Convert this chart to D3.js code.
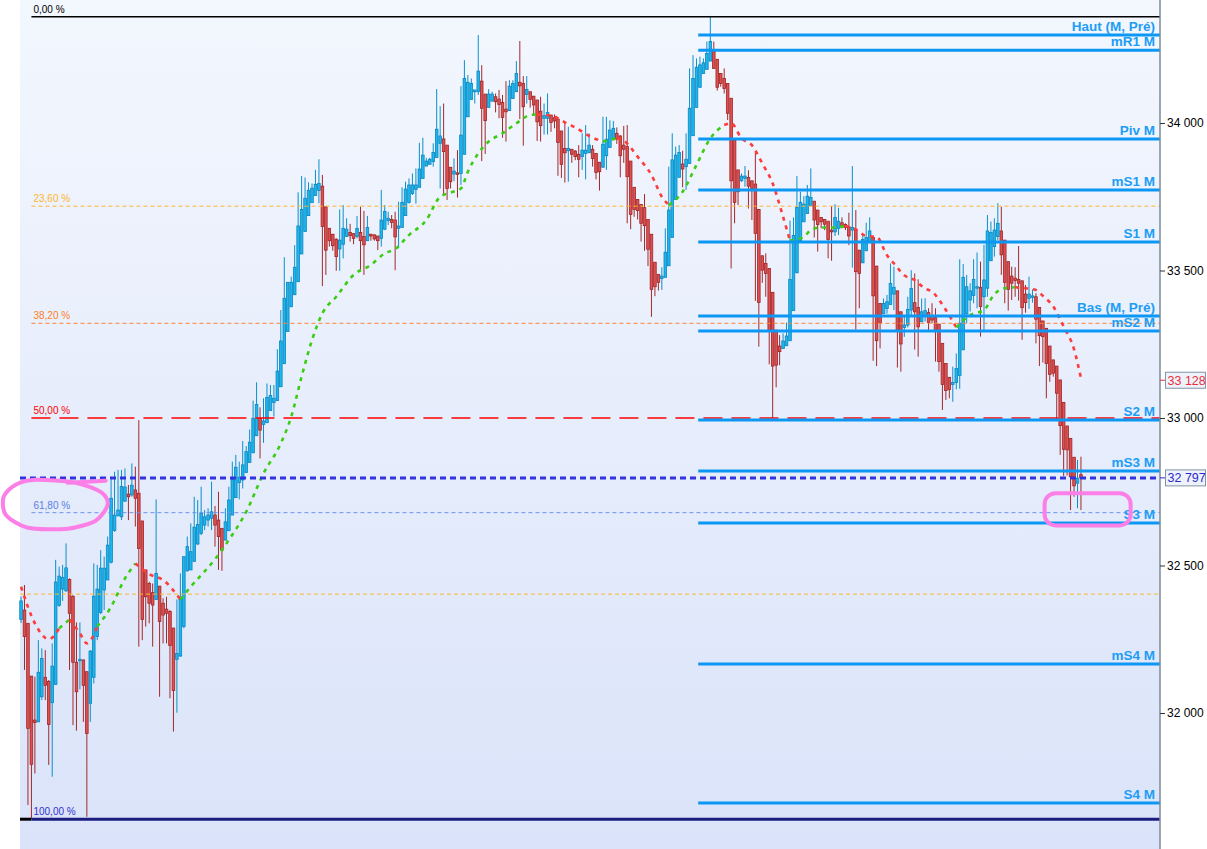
<!DOCTYPE html>
<html>
<head>
<meta charset="utf-8">
<script src="https://cdn.jsdelivr.net/npm/d3@7"></script>
<style>
  html, body { margin: 0; padding: 0; background: #fff; overflow: hidden; }
  svg { display: block; }
</style>
</head>
<body>
<svg id="chart" width="1207" height="849"></svg>
<script>
// candle values (index = bar number, left to right)
const opens = [
  32317,32349,32304,32125,31976,31970,32055,32121,32107,32035,
  32097,32365,32420,32414,32453,32395,32172,32177,32180,32140,
  32033,32121,32259,32341,32417,32451,32511,32619,32668,32665,
  32718,32742,32739,32756,32745,32651,32485,32439,32408,32385,
  32430,32372,32352,32344,32288,32182,32193,32293,32482,32485,
  32514,32573,32609,
  32637,32654,32660,32671,32654,32626,32586,32618,32671,32730,
  32781,32790,32815,32849,32882,32940,32999,32978,32984,33025,
  33053,33059,33106,33184,33293,33377,33418,33462,33556,33632,
  33686,33730,33754,33771,33786,33716,33643,33623,33606,33573,
  33589,33615,33629,33625,33615,33629,33615,33601,33623,33621,
  33617,33609,33640,
  33669,33673,33671,33643,33646,33686,33731,33761,33775,33782,
  33812,33854,33860,33869,33883,33931,33946,33925,33850,33827,
  33831,33829,33894,34021,34080,34106,34106,34142,34098,34053,
  34074,34089,34081,34070,34047,34042,34083,34106,34138,34134,
  34097,34106,34091,34078,34040,34016,34016,34027,34018,34013,33973,
  33914,33906,33911,33905,33894,33886,33897,33899,33911,33897,
  33867,33850,33889,33917,33946,33965,33956,33925,33920,33871,
  33782,33741,33724,33713,33673,33623,33528,33487,33473,33477,
  33516,33612,33741,33816,33861,33852,33863,33957,34053,34121,
  34168,34182,34210,34242,34216,34168,34151,34134,34084,33942,33841,33804,
  33812,33815,33804,33793,33707,33550,33524,33507,33426,33298,
  33244,33236,33245,33262,33364,33492,33601,33665,33693,33719,
  33735,33705,33680,33673,33667,33637,33631,33643,33662,33656,
  33648,33637,33639,33569,33526,33567,33594,33612,33515,33388,
  33354,33371,33385,33420,33431,33360,33307,33315,33366,33391,33375,33326,
  33344,33357,33346,33340,33318,33253,33185,33138,33114,33120,
  33144,33231,33353,33400,33415,33440,33443,33411,33440,33533,
  33581,33615,33634,33603,33530,33481,33474,33470,33465,33420,
  33406,33409,33411,33375,33329,33304,33244,33197,33176,33129,
  33053,32973,32931,32867,32779,32808
];
const highs = [
  32395,32434,32304,32125,32123,32247,32219,32213,32112,32236,
  32519,32496,32502,32575,32456,32400,32307,32307,32180,32140,
  32213,32507,32502,32552,32530,32598,32801,32818,32824,32824,
  32829,32773,32846,32835,32993,32651,32485,32445,32439,32724,
  32430,32389,32394,32349,32288,32385,32473,32530,32598,32643,
  32733,32722,32767,
  32688,32694,32784,32702,32750,32626,32694,32767,32852,32875,
  32852,32922,32905,32961,33059,33121,33036,33067,33117,33112,
  33112,33233,33366,33545,33460,33479,33586,33765,33820,33815,
  33799,33795,33841,33877,33824,33716,33643,33623,33609,33707,
  33722,33677,33658,33625,33685,33716,33702,33685,33623,33621,
  33617,33773,33722,
  33699,33688,33699,33733,33782,33801,33812,33829,33846,33933,
  33950,33882,33882,33931,34115,34057,34066,33925,33850,33880,
  33908,34125,34213,34163,34151,34112,34298,34196,34098,34115,
  34106,34100,34112,34095,34142,34145,34145,34210,34278,34159,
  34159,34106,34091,34078,34089,34066,34100,34027,34029,34013,33973,
  34004,33987,33911,33908,33925,33965,33993,33965,33925,33897,
  33867,34021,34021,34009,34007,33985,33959,33990,33993,33871,
  33782,33741,33724,33759,33673,33623,33528,33487,33511,33643,
  33852,33965,33920,33925,33906,33965,34185,34230,34219,34225,
  34219,34276,34363,34276,34216,34168,34185,34134,34084,33942,33841,33829,
  33854,33840,33804,33902,33707,33550,33558,33507,33426,33298,
  33281,33287,33323,33669,33680,33820,33767,33752,33790,33846,
  33735,33705,33680,33673,33667,33718,33725,33713,33680,33660,
  33696,33854,33705,33569,33620,33662,33680,33612,33515,33388,
  33405,33417,33524,33513,33431,33360,33343,33411,33501,33490,33470,33405,
  33406,33372,33389,33372,33318,33253,33185,33138,33174,33219,
  33538,33522,33485,33457,33538,33561,33530,33587,33688,33666,
  33677,33728,33716,33603,33530,33513,33511,33583,33465,33451,
  33479,33436,33423,33375,33329,33304,33244,33197,33176,33129,
  33053,32973,32931,32867,32858,32869
];
const lows = [
  32305,32146,31688,31643,31795,31970,32044,32044,31824,31784,
  32097,32360,32380,32411,32146,31959,31940,32080,31970,31648,
  31970,32100,32247,32335,32349,32451,32507,32614,32668,32654,
  32716,32654,32733,32632,32225,32247,32293,32304,32225,32383,
  32055,32236,32236,32050,31937,32001,32191,32287,32479,32485,
  32513,32569,32603,
  32620,32632,32620,32564,32485,32482,32586,32618,32671,32730,
  32724,32761,32815,32849,32882,32940,32863,32916,32984,33025,
  33005,33059,33106,33184,33293,33377,33418,33462,33556,33632,
  33686,33730,33754,33728,33447,33485,33581,33567,33499,33499,
  33541,33615,33598,33589,33609,33499,33485,33601,33601,33601,
  33569,33581,33637,
  33654,33643,33501,33575,33646,33686,33727,33756,33727,33782,
  33812,33854,33860,33852,33883,33778,33756,33739,33778,33803,
  33747,33790,33894,34021,34080,34066,34095,33871,33895,34053,
  34074,34036,34016,33950,33937,34042,34083,34106,34013,33923,
  34066,34052,34029,33939,33937,33961,33961,33970,33982,33821,33814,
  33798,33801,33865,33874,33816,33841,33809,33899,33852,33809,
  33771,33850,33841,33917,33942,33929,33816,33865,33660,33640,
  33682,33673,33598,33567,33515,33343,33413,33432,33434,33477,
  33516,33612,33741,33816,33782,33773,33863,33957,34053,34121,
  34168,34182,34210,34185,34110,34123,34100,34010,33507,33660,33722,33801,
  33784,33710,33671,33397,33242,33458,33411,33182,32999,33104,
  33179,33236,33245,33262,33364,33492,33601,33665,33693,33719,
  33612,33564,33643,33637,33541,33533,33617,33620,33643,33637,
  33586,33510,33300,33372,33526,33567,33594,33194,33176,33236,
  33354,33354,33385,33366,33171,33157,33275,33307,33343,33232,33208,33326,
  33327,33298,33321,33191,33157,33027,33061,33067,33055,33097,
  33099,33231,33321,33361,33389,33372,33276,33298,33411,33533,
  33547,33603,33485,33389,33364,33400,33411,33398,33265,33357,
  33370,33391,33253,33176,33188,33067,33123,33140,32993,32875,
  32803,32805,32688,32733,32694,32688
];
const closes = [
  32380,32259,31948,31826,31968,32138,32185,32094,31961,32159,
  32444,32464,32460,32492,32338,32172,32072,32182,32094,31931,
  32210,32396,32420,32491,32491,32569,32728,32671,32688,32768,
  32766,32733,32772,32728,32558,32317,32394,32372,32366,32473,
  32310,32332,32338,32229,32076,32202,32385,32530,32564,32547,
  32630,32639,32677,
  32665,32671,32682,32637,32598,32552,32648,32722,32792,32833,
  32799,32841,32886,32918,32999,33046,32959,32990,33070,33076,
  33067,33159,33261,33406,33460,33460,33511,33651,33707,33745,
  33772,33779,33792,33795,33649,33569,33601,33584,33547,33603,
  33643,33640,33618,33609,33643,33601,33587,33646,33617,33607,
  33601,33671,33700,
  33677,33663,33614,33651,33731,33776,33790,33790,33790,33844,
  33891,33871,33877,33900,33979,33956,33903,33778,33801,33837,
  33826,33959,34151,34138,34134,34112,34176,34050,34008,34098,
  34098,34072,34063,34019,34038,34125,34134,34168,34126,34055,
  34114,34080,34061,34004,33991,34025,34036,34002,34007,33934,33860,
  33899,33914,33894,33886,33877,33908,33908,33925,33880,33832,
  33835,33928,33945,33976,33982,33946,33889,33911,33818,33690,
  33707,33703,33660,33652,33572,33436,33445,33460,33481,33562,
  33705,33875,33891,33900,33844,33877,34050,34151,34189,34197,
  34204,34236,34276,34185,34121,34134,34117,34033,33804,33731,33767,33820,
  33820,33786,33778,33626,33392,33501,33490,33298,33176,33179,
  33225,33261,33278,33470,33619,33714,33731,33725,33752,33748,
  33671,33656,33665,33657,33605,33631,33680,33667,33648,33646,
  33617,33646,33496,33490,33605,33612,33634,33414,33262,33323,
  33388,33394,33456,33443,33298,33251,33315,33368,33439,33360,33309,33360,
  33364,33324,33332,33298,33191,33114,33093,33097,33120,33168,
  33321,33477,33445,33431,33470,33445,33378,33468,33634,33629,
  33637,33660,33553,33460,33436,33457,33466,33457,33374,33391,
  33420,33414,33335,33279,33276,33185,33148,33152,33084,32974,
  32894,32892,32801,32770,32796,32797
];

// moving average, read at these bar numbers
const maIndex = [0,4,8,11,14,17,19,22,26,30,33,37,41,46,49,53,56,60,65,70,75,78,81,84,87,91,96,101,105,
  108,112,117,121,124,127,129,132,135,139,143,147,149,153,158,160,164,168,172,174,178,182,185,187,191,
  195,199,203,205,208,211,214,217,220,222,226,228,231,235,238,241,244,247,250,252,255,258,261,263,267,
  270,274,278,281,284,287,290,293,295,298,301,304,306];
const maValues = [32428,32304,32250,32287,32317,32270,32236,32293,32360,32456,32507,32471,32451,32385,32428,
  32480,32521,32587,32682,32812,32914,33004,33140,33264,33355,33411,33485,33519,33558,
  33573,33620,33671,33750,33764,33778,33835,33897,33937,33965,33999,34027,34029,34025,33996,33985,33956,
  33937,33948,33940,33886,33824,33750,33722,33767,33858,33948,33993,33999,33948,33925,33863,33795,33682,
  33601,33614,33637,33646,33646,33651,33639,33617,33614,33552,33524,33484,33467,33439,33428,33366,33307,
  33349,33366,33420,33440,33443,33440,33434,33414,33378,33310,33233,33135];
const maLast = 33128;
const lastPrice = 32797;

// fibonacci retracement
const fibHigh = 34360;
const fibLow = 31640;
const fibRatios = [0, 0.236, 0.382, 0.5, 0.618, 1];
const fibLabels = ['0,00 %', '23,60 %', '38,20 %', '50,00 %', '61,80 %', '100,00 %'];
const fibStartBar = 3;
const extraLevel = 32403;

// monthly pivots
const pivotNames = ['Haut (M, Pré)', 'mR1 M', 'Piv M', 'mS1 M', 'S1 M', 'Bas (M, Pré)',
  'mS2 M', 'S2 M', 'mS3 M', 'S3 M', 'mS4 M', 'S4 M'];
const pivotValues = [34298, 34247, 33946, 33773, 33597, 33346, 33295, 32993, 32820, 32644, 32166, 31695];
const pivotStartBar = 196;

const yTicks = [32000, 32500, 33000, 33500, 34000];

// ---------------------------------------------------------------
const W = 1207, H = 849;
const plotLeft = 20, plotRight = 1160;
const svg = d3.select('#chart');

const n = closes.length;
const x = d3.scaleBand().domain(d3.range(n)).range([19.3, 1082.7]);
const cx = i => x(i) + x.bandwidth() / 2;
const y = d3.scaleLinear().domain([32000, 34000]).range([713, 123]);

const fr = d3.formatLocale({ decimal: ',', thousands: ' ', grouping: [3], currency: ['', ''] });
const fmt = fr.format(',d');

// background
const defs = svg.append('defs');
const grad = defs.append('linearGradient').attr('id', 'bg')
  .attr('x1', 0).attr('y1', 0).attr('x2', 0).attr('y2', 1);
grad.append('stop').attr('offset', '0%').attr('stop-color', '#f3f7fe');
grad.append('stop').attr('offset', '100%').attr('stop-color', '#dae3f9');

svg.append('rect').attr('x', plotLeft).attr('y', 0)
  .attr('width', plotRight - plotLeft).attr('height', H).attr('fill', 'url(#bg)');

const g = svg.append('g');

// candles
const candles = closes.map((c, i) => ({ i, o: opens[i], h: highs[i], l: lows[i], c }));
const up = d => d.c >= d.o;

g.append('g').selectAll('line').data(candles).join('line')
  .attr('x1', d => cx(d.i)).attr('x2', d => cx(d.i))
  .attr('y1', d => y(Math.max(d.h, d.o, d.c)))
  .attr('y2', d => y(Math.min(d.l, d.o, d.c)))
  .attr('stroke', d => up(d) ? '#0a8fca' : '#a3282a')
  .attr('stroke-width', 1);

g.append('g').selectAll('rect').data(candles).join('rect')
  .attr('x', d => cx(d.i) - 1.3)
  .attr('width', 2.6)
  .attr('y', d => y(Math.max(d.o, d.c)))
  .attr('height', d => Math.max(1, Math.abs(y(d.o) - y(d.c))))
  .attr('fill', d => up(d) ? '#1db6ee' : '#df5050')
  .attr('stroke', d => up(d) ? '#0a86bf' : '#a02426')
  .attr('stroke-width', 0.8);

// fibonacci lines
const fibColors = ['#000000', '#ffb52e', '#ff8538', '#ff0000', '#6b92f0', '#1c1c80'];
const fibDash = [null, '4,3', '4,3', '19,9', '4,3', null];
const fibWidth = [1.5, 1, 1, 1.5, 1, 3];
const fibLabelColors = ['#000000', '#ffb52e', '#ff7f27', '#ff0000', '#5a7fe0', '#3030d0'];
const fibLevels = fibRatios.map(r => fibHigh - r * (fibHigh - fibLow));
const fibX = cx(fibStartBar);

svg.append('line')
  .attr('x1', plotLeft).attr('x2', plotRight)
  .attr('y1', y(extraLevel)).attr('y2', y(extraLevel))
  .attr('stroke', '#ffb52e').attr('stroke-width', 1).attr('stroke-dasharray', '4,3');

// black stub under 100 % line
svg.append('line')
  .attr('x1', plotLeft).attr('x2', fibX)
  .attr('y1', y(fibLow)).attr('y2', y(fibLow))
  .attr('stroke', '#000').attr('stroke-width', 3);

fibLevels.forEach((v, k) => {
  svg.append('line')
    .attr('x1', fibX).attr('x2', plotRight)
    .attr('y1', y(v)).attr('y2', y(v))
    .attr('stroke', fibColors[k])
    .attr('stroke-width', fibWidth[k])
    .attr('stroke-dasharray', fibDash[k]);
  svg.append('text')
    .attr('x', fibX + 2).attr('y', y(v) - 4)
    .attr('font-family', 'Liberation Sans, Arial, sans-serif')
    .attr('font-size', 10)
    .attr('fill', fibLabelColors[k])
    .text(fibLabels[k]);
});

// moving average, coloured by side of price
const maPts = maIndex.map((i, k) => ({ i, v: maValues[k] }));
const runs = [];
for (let k = 0; k < maPts.length - 1; k++) {
  const a = maPts[k], b = maPts[k + 1];
  const seg = closes.slice(a.i, b.i + 1);
  const above = (a.v + b.v) / 2 > d3.mean(seg);
  const col = above ? '#ff3b3b' : '#3ccc14';
  const last = runs[runs.length - 1];
  if (last && last.col === col) last.pts.push(b);
  else runs.push({ col, pts: [a, b] });
}
const maLine = d3.line().x(d => cx(d.i)).y(d => y(d.v)).curve(d3.curveMonotoneX);
svg.append('g').selectAll('path').data(runs).join('path')
  .attr('d', d => maLine(d.pts))
  .attr('fill', 'none')
  .attr('stroke', d => d.col)
  .attr('stroke-width', 2.6)
  .attr('stroke-dasharray', '4,5');

// pivot lines
const pivX = x(pivotStartBar);
const pv = svg.append('g');
pv.selectAll('line').data(pivotValues).join('line')
  .attr('x1', pivX).attr('x2', plotRight)
  .attr('y1', d => y(d)).attr('y2', d => y(d))
  .attr('stroke', '#0b97f3').attr('stroke-width', 3);
pv.selectAll('text').data(pivotValues).join('text')
  .attr('x', plotRight - 5).attr('y', d => y(d) - 4)
  .attr('text-anchor', 'end')
  .attr('font-family', 'Liberation Sans, Arial, sans-serif')
  .attr('font-weight', 'bold')
  .attr('font-size', 13.5)
  .attr('fill', '#1d9df5')
  .text((d, k) => pivotNames[k]);

// last price line
svg.append('line')
  .attr('x1', plotLeft).attr('x2', plotRight)
  .attr('y1', y(lastPrice)).attr('y2', y(lastPrice))
  .attr('stroke', '#3333dd').attr('stroke-width', 3).attr('stroke-dasharray', '6,4');

// right axis
svg.append('line')
  .attr('x1', plotRight).attr('x2', plotRight).attr('y1', 0).attr('y2', H)
  .attr('stroke', '#7d8b98').attr('stroke-width', 1.5);

const axis = svg.append('g')
  .attr('transform', `translate(${plotRight},0)`)
  .call(d3.axisRight(y).tickValues(yTicks).tickSize(5).tickPadding(2).tickFormat(fmt));
axis.select('.domain').remove();
axis.selectAll('.tick line').attr('stroke', '#333');
axis.selectAll('.tick text')
  .attr('font-family', 'Liberation Sans, Arial, sans-serif')
  .attr('font-size', 12)
  .attr('fill', '#000');

// price boxes
const boxes = [
  { v: maLast, col: '#e8303a' },
  { v: lastPrice, col: '#2b2bd0' }
];
boxes.forEach(b => {
  const yy = y(b.v);
  svg.append('line').attr('x1', plotRight).attr('x2', plotRight + 5)
    .attr('y1', yy).attr('y2', yy).attr('stroke', b.col).attr('stroke-width', 1);
  svg.append('rect').attr('x', plotRight + 5.5).attr('y', yy - 8)
    .attr('width', 40).attr('height', 16)
    .attr('fill', '#eef2fb').attr('stroke', '#8494a4').attr('stroke-width', 1);
  svg.append('text').attr('x', plotRight + 7.5).attr('y', yy + 4.5)
    .attr('font-family', 'Liberation Sans, Arial, sans-serif')
    .attr('font-size', 12.5)
    .attr('fill', b.col)
    .text(fmt(b.v));
});

// hand-drawn highlights
const pink = '#fb7fe6';
const loop = d3.line().curve(d3.curveCardinalClosed.tension(0.2));
const lx = cx(10), ly = y(fibLevels[4]) - 6;
svg.append('path')
  .attr('d', loop([
    [lx - 20, ly - 27], [lx + 20, ly - 24], [lx + 46, ly - 14], [lx + 52, ly - 2],
    [lx + 40, ly + 14], [lx + 12, ly + 22], [lx - 28, ly + 21], [lx - 50, ly + 8],
    [lx - 52, ly - 10], [lx - 40, ly - 22]
  ]))
  .attr('fill', 'none').attr('stroke', pink).attr('stroke-width', 4);
svg.append('path')
  .attr('d', d3.line()([[lx + 12, ly - 24], [lx + 50, ly - 26]]))
  .attr('fill', 'none').attr('stroke', pink).attr('stroke-width', 4).attr('stroke-linecap', 'round');

const rx0 = x(296), ry0 = y(32745);
svg.append('rect')
  .attr('x', rx0).attr('y', ry0)
  .attr('width', 86).attr('height', y(32636) - ry0)
  .attr('rx', 11).attr('ry', 11)
  .attr('fill', 'none').attr('stroke', pink).attr('stroke-width', 4);
</script>
</body>
</html>
